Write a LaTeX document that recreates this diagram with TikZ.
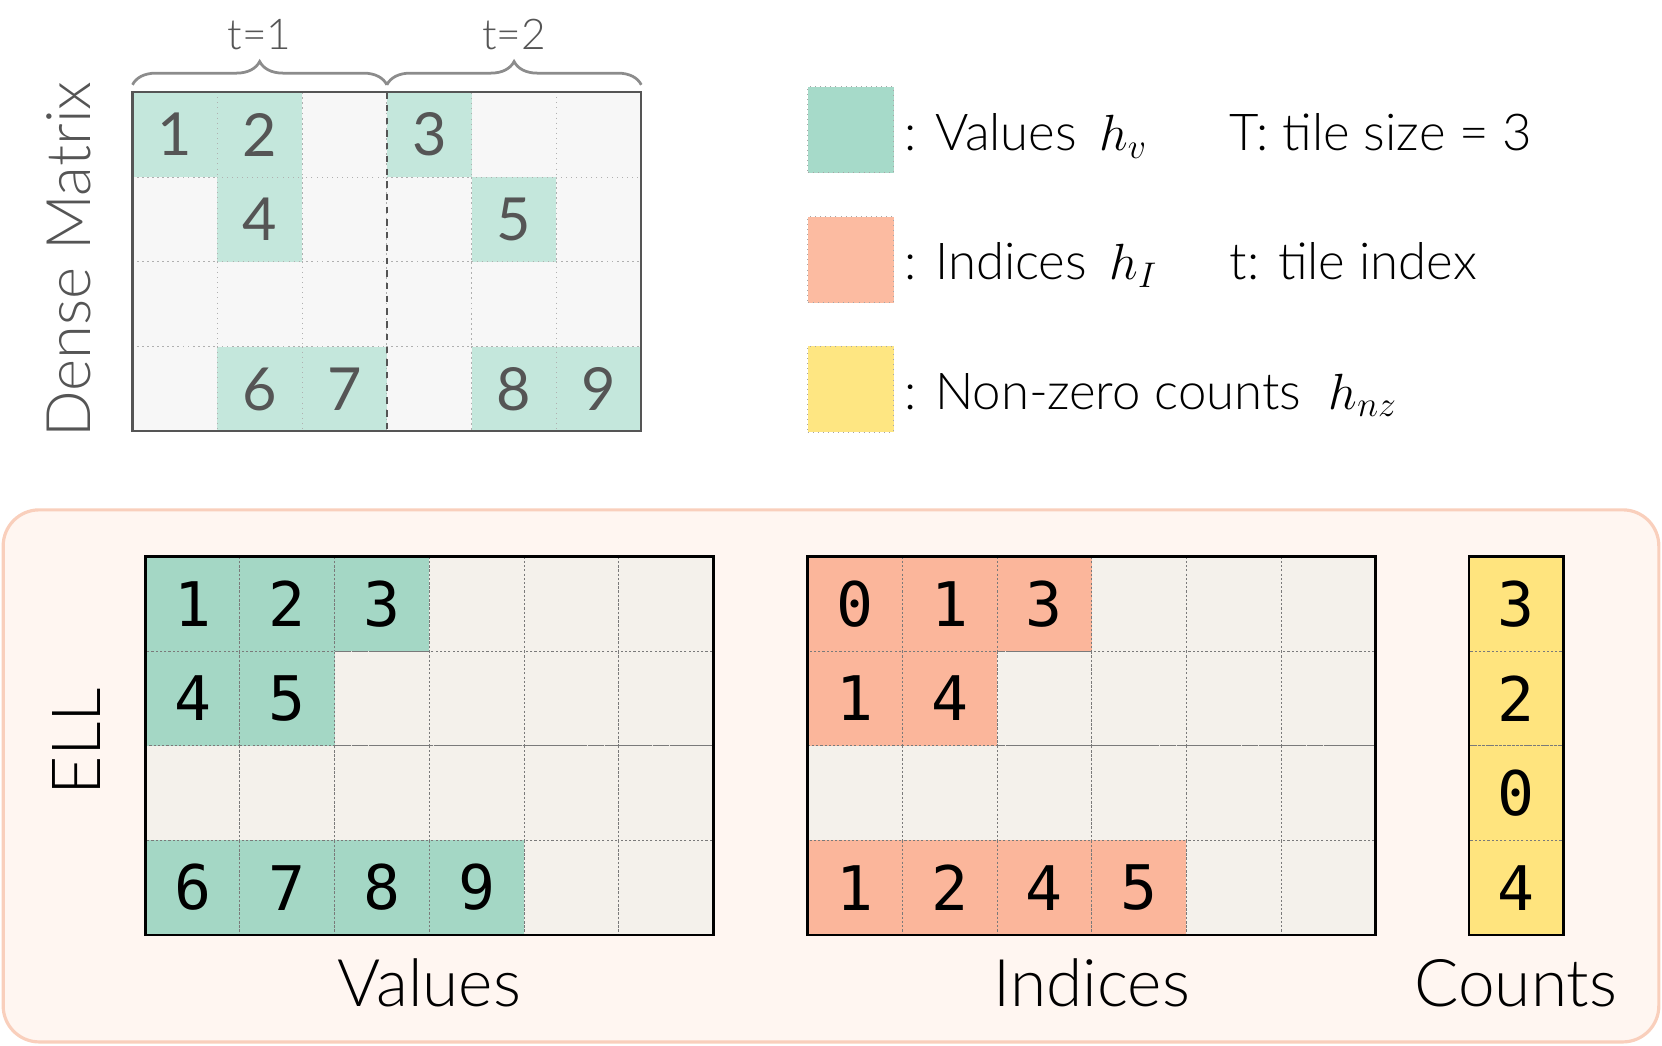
\RequirePackage{fix-cm}
\documentclass[tikz,border=0pt]{standalone}
\usepackage{fontspec}
\setmainfont{Lato Light}
\newfontfamily\digitfont{Lato}
\newfontfamily\monofont{DejaVu Sans Mono}
\usetikzlibrary{positioning}
\usetikzlibrary{decorations.pathreplacing}
\definecolor{dgreen}{HTML}{C4E7DC}
\definecolor{dempty}{HTML}{F7F7F7}
\definecolor{dgray}{HTML}{555555}
\definecolor{gridd}{HTML}{B0B0B0}
\definecolor{egreen}{HTML}{A4D7C5}
\definecolor{esalmon}{HTML}{FBB69B}
\definecolor{eyellow}{HTML}{FFE47E}
\definecolor{eempty}{HTML}{F4F1EB}
\definecolor{gride}{HTML}{7A7A7A}
\definecolor{boxfill}{HTML}{FFF6F1}
\definecolor{boxline}{HTML}{F9CFBC}
\definecolor{bracegray}{HTML}{8C8C8C}
\definecolor{lgreen}{HTML}{A6DAC9}
\definecolor{lsalmon}{HTML}{FCBBA1}
\definecolor{lyellow}{HTML}{FEE682}

\begin{document}
\begin{tikzpicture}[x=0.5pt, y=-0.5pt,
    dcell/.style = {rectangle, minimum width=40pt, minimum height=40pt,
                inner sep=0pt, outer sep=0pt, draw=gridd, dotted, line width=0.4pt,
                fill=#1, text=dgray, font=\digitfont\fontsize{28}{28}\selectfont},
    dcell/.default = dempty,
    ecell/.style = {rectangle, minimum width=44.67pt, minimum height=44.62pt,
                inner sep=0pt, outer sep=0pt, draw=gride, dash pattern=on 1pt off 1pt,
                line width=0.4pt, fill=#1, font=\monofont\fontsize{29}{29}\selectfont},
    ecell/.default = eempty,
    legbox/.style = {rectangle, minimum size=40.5pt, inner sep=0pt,
                draw=gray!70, dotted, line width=0.4pt, fill=#1},
    legtext/.style = {anchor=base west, inner sep=0pt, font=\fontsize{24}{24}\selectfont},
    tlabel/.style = {text=dgray, font=\fontsize{20}{20}\selectfont},
    caption/.style = {anchor=base, font=\fontsize{31}{31}\selectfont},
    tbrace/.style = {decorate, decoration={brace, amplitude=11pt},
                draw=bracegray, line width=1.3pt}
                    ]
    \useasboundingbox (0,0) rectangle (1568,986);
    % tiled dense matrix
    \foreach \r in {1,...,4}
        \foreach \c in {1,...,6}
            \node[dcell] at ({125+80*(\c-0.5)},{87+80*(\r-0.5)}) (d\r\c) {};
    \foreach \r/\c/\v in {1/1/1,1/2/2,1/4/3,2/2/4,2/5/5,4/2/6,4/3/7,4/5/8,4/6/9}
        \node[dcell=dgreen] at ({125+80*(\c-0.5)},{87+80*(\r-0.5)}) (dv\v) {\v};
    \draw[draw=dgray, line width=1pt] (d11.north west) rectangle (d46.south east);
    \draw[draw=dgray, dashed, line width=0.8pt] (d13.north east) -- (d43.south east);
    \draw[tbrace] ([yshift=3.5pt]d11.north west) -- ([yshift=3.5pt]d13.north east);
    \draw[tbrace] ([yshift=3.5pt]d14.north west) -- ([yshift=3.5pt]d16.north east);
    \node[tlabel] at (245,33) (t1) {t=1};
    \node[tlabel] at (485,33) (t2) {t=2};
    \node[rotate=90, text=dgray, font=\fontsize{29}{29}\selectfont] at (65,245) (dense) {Dense Matrix};
    % legend
    \node[legbox=lgreen] at (802.5,122.5) (lv) {};
    \node[legbox=lsalmon] at (802.5,245) (li) {};
    \node[legbox=lyellow] at (802.5,367) (lc) {};
    \node[legtext] at (853,142) (lvt) {: Values\ \,$h_v$};
    \node[legtext] at (853,264) (lit) {: Indices\ \,$h_I$};
    \node[legtext] at (853,386) (lct) {: Non-zero counts\ \ $h_{nz}$};
    \node[legtext] at (1160,142) (tsize) {T: tile size = 3};
    \node[legtext] at (1160,264) (tidx) {t: tile index};
    % ELL format
    \draw[fill=boxfill, draw=boxline, line width=1.5pt, rounded corners=17pt] (3,481) rectangle (1565,983);
    \node[rotate=90, font=\fontsize{32}{32}\selectfont] at (72,700) (ell) {ELL};
    \foreach \r in {1,...,4}
        \foreach \c in {1,...,6} {
            \node[ecell] at ({137+89.33*(\c-0.5)},{525+89.25*(\r-0.5)}) (v\r\c) {};
            \node[ecell] at ({762+89.33*(\c-0.5)},{525+89.25*(\r-0.5)}) (i\r\c) {};
        }
    \foreach \r/\c/\v in {1/1/1,1/2/2,1/3/3,2/1/4,2/2/5,4/1/6,4/2/7,4/3/8,4/4/9}
        \node[ecell=egreen] at ({137+89.33*(\c-0.5)},{525+89.25*(\r-0.5)}) (vv\v) {\v};
    \foreach \r/\c/\v in {1/1/0,1/2/1,1/3/3,2/1/1,2/2/4,4/1/1,4/2/2,4/3/4,4/4/5}
        \node[ecell=esalmon] at ({762+89.33*(\c-0.5)},{525+89.25*(\r-0.5)}) (ii\r\c) {\v};
    \foreach \r/\v in {1/3,2/2,3/0,4/4}
        \node[ecell=eyellow, minimum width=44.5pt] at (1430.5,{525+89.25*(\r-0.5)}) (cc\r) {\v};
    \draw[line width=1.3pt] (v11.north west) rectangle (v46.south east);
    \draw[line width=1.3pt] (i11.north west) rectangle (i46.south east);
    \draw[line width=1.3pt] (cc1.north west) rectangle (cc4.south east);
    \node[caption] at (405,950) (vcap) {Values};
    \node[caption] at (1030,950) (icap) {Indices};
    \node[caption] at (1430,950) (ccap) {Counts};
\end{tikzpicture}
\end{document}
